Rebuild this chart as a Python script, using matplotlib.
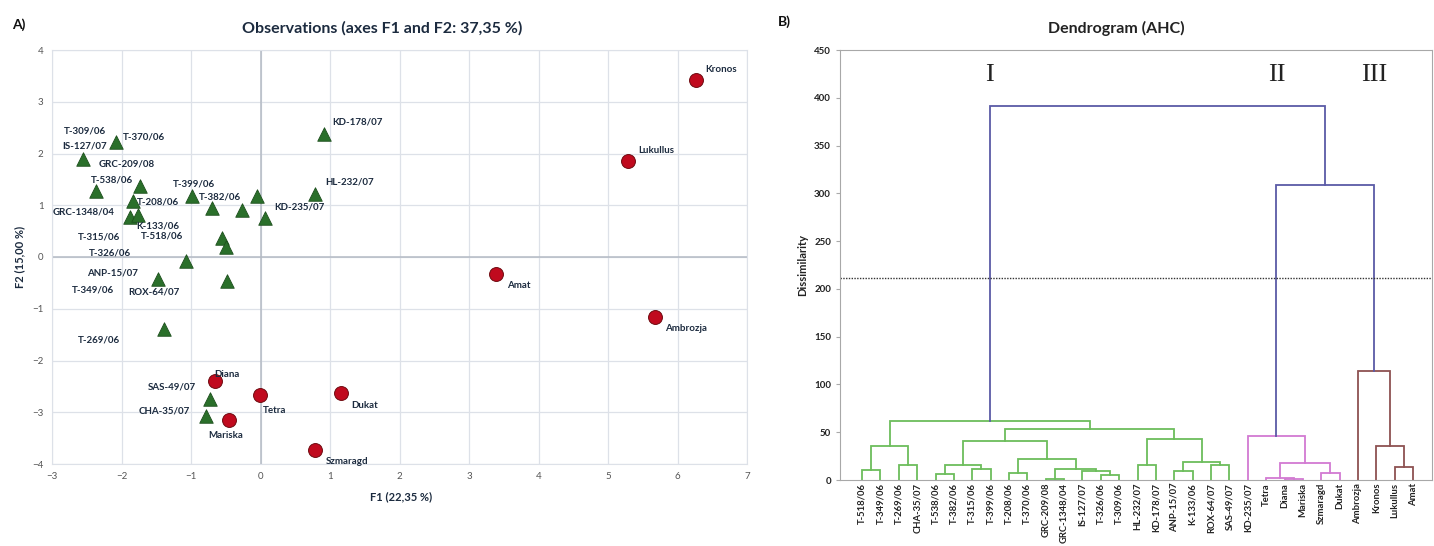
import numpy as np
import matplotlib
matplotlib.use("Agg")
import matplotlib.pyplot as plt

plt.rcParams['font.family'] = ['Lato', 'DejaVu Sans']

# ---- A) PCA observations -------------------------------------------
green_names = ['T-370/06', 'T-309/06', 'GRC-209/08', 'T-538/06', 'T-208/06',
               'GRC-1348/04', 'K-133/06', 'T-399/06', 'T-382/06', 'IS-127/07',
               'T-315/06', 'KD-235/07', 'HL-232/07', 'KD-178/07', 'T-518/06',
               'T-326/06', 'ANP-15/07', 'T-349/06', 'ROX-64/07', 'T-269/06',
               'SAS-49/07', 'CHA-35/07']
green_f1 = [-2.08, -2.56, -1.73, -2.37, -1.84, -1.88, -1.76, -0.99, -0.70, -0.27,
            -0.05, 0.07, 0.79, 0.92, -0.55, -0.50, -1.07, -1.48, -0.48, -1.39,
            -0.72, -0.78]
green_f2 = [2.23, 1.90, 1.37, 1.28, 1.09, 0.77, 0.82, 1.17, 0.94, 0.90,
            1.17, 0.75, 1.22, 2.37, 0.37, 0.19, -0.08, -0.43, -0.46, -1.39,
            -2.75, -3.07]

red_names = ['Kronos', 'Lukullus', 'Amat', 'Ambrozja', 'Diana', 'Tetra',
             'Mariska', 'Dukat', 'Szmaragd']
red_f1 = [6.26, 5.29, 3.39, 5.67, -0.66, -0.01, -0.46, 1.16, 0.78]
red_f2 = [3.42, 1.86, -0.32, -1.15, -2.40, -2.67, -3.15, -2.62, -3.72]

# where each name is written (centre of the text)
label_pos = {
    'T-309/06': (-2.53, 2.44), 'IS-127/07': (-2.53, 2.15), 'T-370/06': (-1.68, 2.31),
    'GRC-209/08': (-1.93, 1.80), 'T-538/06': (-2.14, 1.49), 'T-399/06': (-0.96, 1.41),
    'T-208/06': (-1.48, 1.06), 'T-382/06': (-0.58, 1.15), 'KD-178/07': (1.40, 2.60),
    'HL-232/07': (1.28, 1.44), 'KD-235/07': (0.56, 0.96), 'GRC-1348/04': (-2.54, 0.86),
    'K-133/06': (-1.48, 0.60), 'T-315/06': (-2.32, 0.39), 'T-518/06': (-1.42, 0.41),
    'T-326/06': (-2.16, 0.08), 'ANP-15/07': (-2.13, -0.30), 'T-349/06': (-2.41, -0.64),
    'ROX-64/07': (-1.54, -0.68), 'T-269/06': (-2.32, -1.60), 'Diana': (-0.48, -2.27),
    'SAS-49/07': (-1.28, -2.52), 'CHA-35/07': (-1.38, -2.98), 'Mariska': (-0.50, -3.45),
    'Tetra': (0.20, -2.97), 'Dukat': (1.50, -2.86), 'Szmaragd': (1.25, -3.96),
    'Kronos': (6.63, 3.63), 'Lukullus': (5.70, 2.06), 'Amat': (3.72, -0.56),
    'Ambrozja': (6.13, -1.39),
}

# ---- B) Dendrogram ---------------------------------------------------
leaves = ['T-518/06', 'T-349/06', 'T-269/06', 'CHA-35/07', 'T-538/06', 'T-382/06',
          'T-315/06', 'T-399/06', 'T-208/06', 'T-370/06', 'GRC-209/08', 'GRC-1348/04',
          'IS-127/07', 'T-326/06', 'T-309/06', 'HL-232/07', 'KD-178/07', 'ANP-15/07',
          'K-133/06', 'ROX-64/07', 'SAS-49/07', 'KD-235/07', 'Tetra', 'Diana',
          'Mariska', 'Szmaragd', 'Dukat', 'Ambrozja', 'Kronos', 'Lukullus', 'Amat']
leaf_cluster = ['I'] * 21 + ['II'] * 6 + ['III'] * 4

# merges: new node ids start at len(leaves)
merge_a = [23, 10, 22, 13, 4, 25, 8, 12, 17, 0, 6, 32, 29, 15, 19, 2, 35, 33, 39,
           37, 28, 40, 47, 44, 21, 53, 52, 27, 55, 57]
merge_b = [24, 11, 31, 14, 5, 26, 9, 34, 18, 1, 7, 38, 30, 16, 20, 3, 41, 36, 45,
           42, 43, 46, 50, 49, 48, 54, 56, 51, 58, 59]
merge_h = [0.8, 1.5, 2.5, 5.2, 6.0, 7.0, 7.5, 9.4, 9.5, 10.0, 11.5, 11.5, 13.6,
           15.3, 15.3, 15.5, 16.0, 17.8, 18.5, 22.3, 35.6, 36.0, 40.5, 42.5, 46.0,
           53.0, 61.4, 114.0, 309.0, 391.0]
cut_level = 211
group_names = ['I', 'II', 'III']

cluster_colors = {'I': '#6cbd5c', 'II': '#d27ad2', 'III': '#8e5252'}
top_color = '#5a5aa6'
navy = '#1c2b3f'

fig = plt.figure(figsize=(14.34, 5.46), dpi=100)

# ---------- scatter ----------
ax = fig.add_axes([52 / 1434, 82 / 546, 695 / 1434, 414 / 546])
ax.set_xlim(-3, 7)
ax.set_ylim(-4, 4)
ax.set_xticks(range(-3, 8))
ax.set_yticks(range(-4, 5))
ax.grid(True, color='#dde1e8', lw=0.9)
ax.set_axisbelow(True)
ax.axhline(0, color='#b4bac4', lw=1.1, zorder=1)
ax.axvline(0, color='#b4bac4', lw=1.1, zorder=1)
for s in ax.spines.values():
    s.set_color('#dde1e8')
ax.tick_params(length=0, labelsize=7, colors='#555555', pad=6)

ax.scatter(green_f1, green_f2, marker='^', s=95, color='#2a6f2a',
           edgecolor='#1d4f1d', linewidth=0.6, zorder=3)
ax.scatter(red_f1, red_f2, marker='o', s=100, color='#c00a1e',
           edgecolor='#6e0a10', linewidth=0.7, zorder=3)
for name in green_names + red_names:
    lx, ly = label_pos[name]
    ax.text(lx, ly, name, fontsize=7, fontweight='bold', color=navy,
            ha='center', va='center', zorder=4)

fig.text(382 / 1434, 1 - 28 / 546, 'Observations (axes F1 and F2: 37,35 %)',
         fontsize=11.5, fontweight='bold', color=navy, ha='center', va='center')
fig.text(401 / 1434, 1 - 497 / 546, 'F1 (22,35 %)', fontsize=8, fontweight='bold',
         color=navy, ha='center', va='center')
fig.text(20 / 1434, 1 - 257 / 546, 'F2 (15,00 %)', fontsize=8, fontweight='bold',
         color=navy, ha='center', va='center', rotation=90)
fig.text(12 / 1434, 1 - 25 / 546, 'A)', fontsize=10, fontweight='bold', color='#111111',
         ha='left', va='center')

# ---------- dendrogram ----------
bx = fig.add_axes([840 / 1434, 66 / 546, 592 / 1434, 430 / 546])
n = len(leaves)
xpos = list(np.arange(n, dtype=float))
hgt = [0.0] * n
members = [{i} for i in range(n)]
for a, b, h in zip(merge_a, merge_b, merge_h):
    grp = members[a] | members[b]
    clus = {leaf_cluster[i] for i in grp}
    col = cluster_colors[clus.pop()] if len(clus) == 1 else top_color
    bx.plot([xpos[a], xpos[a], xpos[b], xpos[b]], [hgt[a], h, h, hgt[b]],
            color=col, lw=1.3, solid_joinstyle='miter')
    xpos.append((xpos[a] + xpos[b]) / 2)
    hgt.append(h)
    members.append(grp)

bx.axhline(cut_level, color='#333333', lw=1.0, ls=(0, (1, 1)))
bx.set_xlim(-1.2, 31.03)
bx.set_ylim(0, 450)
bx.set_yticks(range(0, 451, 50))
bx.set_xticks(range(n))
bx.set_xticklabels(leaves, rotation=90, fontsize=6.8, fontweight='bold', color='#222222')
for t in bx.get_yticklabels():
    t.set_fontweight('bold')
bx.tick_params(axis='y', labelsize=7, colors='#222222', length=3, color='#aaaaaa')
bx.tick_params(axis='x', length=0, pad=2)
for s in bx.spines.values():
    s.set_color('#a8a8a8')
bx.set_ylabel('Dissimilarity', fontsize=8, fontweight='bold', color='#222222', labelpad=4)

# group numerals sit above the stem of each of the three top clusters
for g in group_names:
    idx = [i for i in range(n) if leaf_cluster[i] == g]
    node = [k for k in range(len(members)) if members[k] == set(idx)][0]
    bx.text(xpos[node], 424, g, fontsize=19, family='Liberation Serif',
            ha='center', va='center', color='#222222')

fig.text(1116 / 1434, 1 - 28 / 546, 'Dendrogram (AHC)', fontsize=11.5,
         fontweight='bold', color='#222222', ha='center', va='center')
fig.text(778 / 1434, 1 - 22 / 546, 'B)', fontsize=10, fontweight='bold', color='#111111',
         ha='left', va='center')

fig.savefig('out.png', dpi=100)
